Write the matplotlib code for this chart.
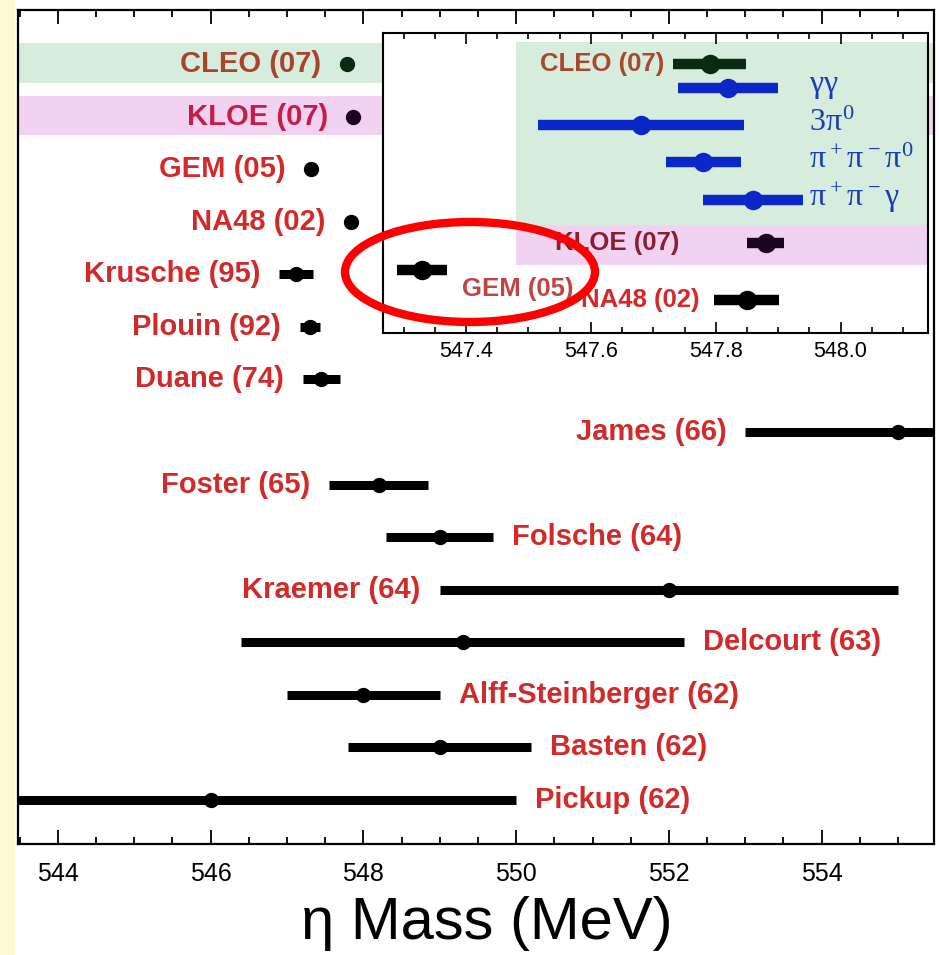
import matplotlib
matplotlib.use("Agg")
import matplotlib.pyplot as plt
from matplotlib.patches import Ellipse, Rectangle
from matplotlib.ticker import MultipleLocator, FormatStrFormatter

plt.rcParams['font.family'] = ['Liberation Sans', 'DejaVu Sans']
plt.rcParams['mathtext.fontset'] = 'custom'
plt.rcParams['mathtext.rm'] = 'Liberation Serif'
plt.rcParams['mathtext.it'] = 'Liberation Serif'
plt.rcParams['mathtext.bf'] = 'Liberation Serif:bold'

# ---------------- data (main panel) ----------------
names = ['CLEO (07)', 'KLOE (07)', 'GEM (05)', 'NA48 (02)', 'Krusche (95)',
         'Plouin (92)', 'Duane (74)', 'James (66)', 'Foster (65)', 'Folsche (64)',
         'Kraemer (64)', 'Delcourt (63)', 'Alff-Steinberger (62)', 'Basten (62)',
         'Pickup (62)']
mass = [547.78, 547.87, 547.31, 547.84, 547.12, 547.30, 547.45, 555.0,
        548.2, 549.0, 552.0, 549.3, 548.0, 549.0, 546.0]
err = [0.06, 0.03, 0.04, 0.05, 0.22, 0.13, 0.24, 2.0,
       0.65, 0.7, 3.0, 2.9, 1.0, 1.2, 4.0]
label_side = ['left', 'left', 'left', 'left', 'left', 'left', 'left', 'left',
              'left', 'right', 'left', 'right', 'right', 'right', 'right']

# ---------------- data (inset) ----------------
in_names = ['CLEO (07)', 'γγ', '3π0', 'π+π-π0', 'π+π-γ', 'KLOE (07)', 'GEM (05)', 'NA48 (02)']
in_mass = [547.79, 547.82, 547.68, 547.78, 547.86, 547.88, 547.33, 547.85]
in_err = [0.058, 0.08, 0.165, 0.06, 0.08, 0.03, 0.04, 0.052]
in_row = [0.0, 0.65, 1.65, 2.65, 3.68, 4.84, 5.57, 6.38]
blue_labels = [r'$\gamma\gamma$', r'$3\pi^0$', r'$\pi^+\pi^-\pi^0$', r'$\pi^+\pi^-\gamma$']

W, H = 939, 955
fig = plt.figure(figsize=(W / 100, H / 100), dpi=100)
fig.patch.set_facecolor('white')
fig.patches.append(Rectangle((0, 0), 14 / W, 1, transform=fig.transFigure,
                             color='#fbfbd2', zorder=0))

# main axes
L, R, T, B = 18, 934, 10, 844
ax = fig.add_axes([L / W, 1 - B / H, (R - L) / W, (B - T) / H])
ax.set_xlim(543.48, 555.47)
ax.set_ylim(14.84, -1.03)

ax.axhspan(-0.40, 0.36, color='#d6ecdc', zorder=0, lw=0)
ax.axhspan(0.60, 1.35, color='#f1d3f1', zorder=0, lw=0)

label_colors = ['#a8442c', '#c41e48'] + ['#d22a2a'] * 13
dot_colors = ['#0b2a12', '#1c0420'] + ['black'] * 13
rows = list(range(len(names)))
for i in rows:
    m, e = mass[i], err[i]
    ax.hlines(i, m - e, m + e, color=dot_colors[i], lw=6.5, capstyle='butt', zorder=3)
    ax.plot(m, i, 'o', color=dot_colors[i], ms=10, zorder=4)
    ee = max(e, 0.08)
    if label_side[i] == 'left':
        ax.annotate(names[i], (m - ee, i), xytext=(-19, 0), textcoords='offset pixels',
                    ha='right', va='center', fontsize=21, fontweight='bold',
                    color=label_colors[i], zorder=5)
    else:
        ax.annotate(names[i], (m + ee, i), xytext=(19, 0), textcoords='offset pixels',
                    ha='left', va='center', fontsize=21, fontweight='bold',
                    color=label_colors[i], zorder=5)

ax.xaxis.set_major_locator(MultipleLocator(2))
ax.xaxis.set_minor_locator(MultipleLocator(0.5))
ax.tick_params(axis='x', which='both', direction='in', top=True, bottom=True,
               labelsize=18, pad=13, width=1.3)
ax.tick_params(axis='x', which='major', length=10)
ax.tick_params(axis='x', which='minor', length=5)
ax.set_yticks([])
for s in ax.spines.values():
    s.set_linewidth(1.6)
ax.set_xlabel('η Mass (MeV)', fontsize=43, labelpad=4)
ax.xaxis.set_label_coords((487 - L) / (R - L), -0.062)
ax.xaxis.label.set_va('top')

# inset axes
iL, iR, iT, iB = 383, 928, 33, 333
ax2 = fig.add_axes([iL / W, 1 - iB / H, (iR - iL) / W, (iB - iT) / H])
ax2.set_facecolor('white')
ax2.set_xlim(547.267, 548.14)
ax2.set_ylim(7.27, -0.84)
ax2.fill_between([547.48, 548.2], -0.59, 4.35, color='#d6ecdc', lw=0, zorder=0)
ax2.fill_between([547.48, 548.2], 4.35, 5.43, color='#f1d3f1', lw=0, zorder=0)

in_colors = ['#0b2a12', '#0a28c8', '#0a28c8', '#0a28c8', '#0a28c8', '#1c0420', 'black', 'black']
for i in range(len(in_names)):
    m, e, y = in_mass[i], in_err[i], in_row[i]
    ax2.hlines(y, m - e, m + e, color=in_colors[i], lw=7.5, capstyle='butt', zorder=3)
    ax2.plot(m, y, 'o', color=in_colors[i], ms=13, zorder=4)

ax2.text(547.718, in_row[0], in_names[0], ha='right', va='center', fontsize=18.5,
         fontweight='bold', color='#a8482e')
ax2.text(547.742, in_row[5], in_names[5], ha='right', va='center', fontsize=18.5,
         fontweight='bold', color='#8c1e34')
ax2.text(547.394, 6.08, in_names[6], ha='left', va='center', fontsize=18.5,
         fontweight='bold', color='#c04444')
ax2.text(547.774, in_row[7], in_names[7], ha='right', va='center', fontsize=18.5,
         fontweight='bold', color='#d22a2a')
for k, lab in enumerate(blue_labels):
    ax2.text(547.95, in_row[k + 1] - 0.05, lab, ha='left', va='center', fontsize=23,
             color='#1a3cb8')

ax2.xaxis.set_major_locator(MultipleLocator(0.2))
ax2.xaxis.set_minor_locator(MultipleLocator(0.05))
ax2.xaxis.set_major_formatter(FormatStrFormatter('%.1f'))
ax2.tick_params(axis='x', which='both', direction='in', top=True, bottom=True,
                labelsize=15.5, pad=6, width=1.2)
ax2.tick_params(axis='x', which='major', length=8)
ax2.tick_params(axis='x', which='minor', length=4)
ax2.set_yticks([])
for s in ax2.spines.values():
    s.set_linewidth(1.5)

# red highlight ellipse
fig.patches.append(Ellipse((470 / W, 1 - 272 / H), 250 / W, 100 / H,
                           transform=fig.transFigure, fill=False,
                           edgecolor='#ff0000', lw=6, zorder=10))

fig.savefig('out.png', dpi=100)
